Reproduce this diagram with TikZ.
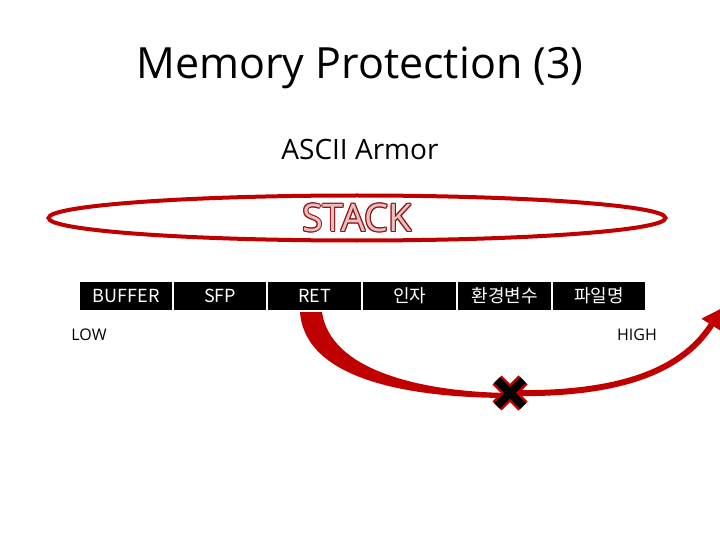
\documentclass[tikz,border=0pt]{standalone}
\usepackage{fontspec}
\setmainfont{Open Sans}
\newfontfamily\kr{Noto Sans CJK KR}
\usetikzlibrary{arrows.meta,shapes.geometric}
\definecolor{dred}{RGB}{192,0,0}
\definecolor{pinkf}{RGB}{232,190,190}
\definecolor{odred}{RGB}{140,20,20}
\tikzset{cell/.style={fill=black,text=white,minimum height=28pt,inner sep=0pt,anchor=west,font=\fontsize{18}{18}\selectfont\kr},
lbl/.style={font=\fontsize{16}{16}\selectfont},
stk/.style={font=\fontsize{38}{38}\selectfont}}
\begin{document}
\begin{tikzpicture}[x=1pt,y=-1pt]
\useasboundingbox (0,0) rectangle (720,540);
\node (title) at (360,68) {\fontsize{43}{43}\selectfont Memory Protection (3)};
\node (sub) at (360,150) {\fontsize{28}{28}\selectfont ASCII Armor};
\node[ellipse,draw=dred,line width=4pt,minimum width=617pt,minimum height=45pt] (ell) at (357,218) {};
\foreach \dx/\dy in {-1/0,1/0,0/-1,0/1,-0.7/-0.7,0.7/0.7,-0.7/0.7,0.7/-0.7}
  \node[stk,text=odred] at (357+\dx,218+\dy) {STACK};
\node[stk,text=pinkf] (stack) at (357,218) {STACK};
\node[cell,minimum width=92pt] (c1) at (80,296) {BUFFER};
\node[cell,minimum width=92pt] (c2) at (174,296) {SFP};
\node[cell,minimum width=93pt] (c3) at (268,296) {RET};
\node[cell,minimum width=93pt] (c4) at (363,296) {인자};
\node[cell,minimum width=93pt] (c5) at (458,296) {환경변수};
\node[cell,minimum width=92pt] (c6) at (553,296) {파일명};
\node[lbl] (low) at (89,335) {LOW};
\node[lbl] (high) at (637,335) {HIGH};
\coordinate (xm) at (510,393);
\coordinate (end) at (722,308);
\fill[dred] (300,312) -- (322,312) .. controls (330,370) and (420,392) .. (510,393)
  -- (510,398) .. controls (410,398) and (305,380) .. (300,312) -- cycle;
\draw[dred,line width=6pt,-{Triangle[length=20pt,width=22pt]}] (xm) .. controls (610,395) and (680,375) .. (end);
\draw[dred,line width=13pt] (497,380) -- (523,406) (523,380) -- (497,406);
\draw[black,line width=8pt] (497,380) -- (523,406) (523,380) -- (497,406);
\end{tikzpicture}
\end{document}
